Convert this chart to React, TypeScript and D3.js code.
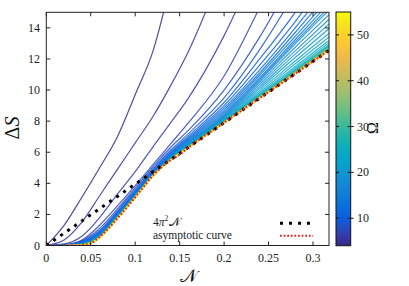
import React from "react";
import * as d3 from "d3";

// ---- data ----
const N_GRID = [0, 0.02, 0.04, 0.06, 0.08, 0.1, 0.12, 0.14, 0.16, 0.2, 0.24, 0.28, 0.32];

const OMEGAS = [4, 5, 6, 7, 8, 9, 10, 11, 12, 13, 14, 15, 16, 17, 18, 19, 20, 21, 22, 23, 24, 25, 26, 27, 28, 30, 32, 35, 38, 42, 46, 50, 55];

const CURVES: number[][] = [
  [0, 1.3, 3.1, 5.0, 7.0, 9.7, 12.5, 16.8, 21],
  [0, 0.35, 1.5, 3.2, 4.9, 6.6, 8.3, 10.3, 12.5, 18],
  [0, 0.1, 0.6, 1.8, 3.3, 4.75, 6.35, 7.9, 9.5, 13.5, 18.5],
  [0, 0.05, 0.35, 1.3, 2.55, 3.85, 5.2, 6.55, 7.9, 10.9, 15.3, 20],
  [0, 0.04, 0.3, 1.1, 2.35, 3.7, 5.05, 6.32, 7.42, 10.0, 13.4, 17.5, 22],
  [0, 0.03, 0.26, 0.98, 2.22, 3.58, 4.93, 6.14, 7.2, 9.5, 12.6, 16.3, 20.5],
  [0, 0.03, 0.22, 0.9, 2.14, 3.49, 4.84, 6.03, 7.05, 9.2, 12.0, 15.0, 18.5],
  [0, 0.02, 0.2, 0.84, 2.08, 3.42, 4.77, 5.95, 6.95, 9.0, 11.6, 14.4, 17.6],
  [0, 0.02, 0.18, 0.8, 2.04, 3.38, 4.72, 5.89, 6.87, 8.85, 11.3, 14.0, 16.9],
  [0, 0.02, 0.16, 0.76, 2.0, 3.34, 4.68, 5.84, 6.8, 8.72, 11.1, 13.7, 16.4],
  [0, 0.01, 0.14, 0.73, 1.97, 3.31, 4.65, 5.8, 6.74, 8.6, 10.95, 13.45, 16.0],
  [0, 0.01, 0.13, 0.7, 1.94, 3.28, 4.62, 5.76, 6.68, 8.5, 10.8, 13.25, 15.7],
  [0, 0.01, 0.12, 0.68, 1.92, 3.26, 4.6, 5.73, 6.63, 8.42, 10.7, 13.1, 15.45],
  [0, 0.01, 0.11, 0.66, 1.9, 3.24, 4.58, 5.7, 6.59, 8.35, 10.6, 12.97, 15.25],
  [0, 0.01, 0.1, 0.64, 1.88, 3.22, 4.57, 5.68, 6.55, 8.3, 10.48, 12.75, 14.95],
  [0, 0, 0.09, 0.62, 1.86, 3.2, 4.56, 5.66, 6.52, 8.25, 10.35, 12.52, 14.65],
  [0, 0, 0.08, 0.61, 1.85, 3.19, 4.55, 5.64, 6.49, 8.2, 10.22, 12.31, 14.35],
  [0, 0, 0.07, 0.6, 1.84, 3.18, 4.54, 5.62, 6.47, 8.15, 10.09, 12.09, 14.05],
  [0, 0, 0.07, 0.59, 1.83, 3.17, 4.53, 5.6, 6.45, 8.1, 9.96, 11.87, 13.75],
  [0, 0, 0.06, 0.58, 1.82, 3.16, 4.53, 5.59, 6.43, 8.06, 9.85, 11.69, 13.5],
  [0, 0, 0.06, 0.57, 1.81, 3.15, 4.52, 5.58, 6.41, 8.02, 9.76, 11.52, 13.28],
  [0, 0, 0.05, 0.56, 1.8, 3.14, 4.52, 5.57, 6.39, 7.99, 9.69, 11.41, 13.12],
  [0, 0, 0.05, 0.55, 1.8, 3.14, 4.51, 5.56, 6.38, 7.97, 9.64, 11.32, 13.0],
  [0, 0, 0.05, 0.55, 1.79, 3.13, 4.51, 5.55, 6.37, 7.96, 9.61, 11.27, 12.93],
  [0, 0, 0.04, 0.54, 1.79, 3.13, 4.5, 5.54, 6.36, 7.95, 9.59, 11.23, 12.88],
  [0, 0, 0.04, 0.53, 1.78, 3.12, 4.5, 5.53, 6.35, 7.94, 9.56, 11.19, 12.82],
  [0, 0, 0.04, 0.53, 1.77, 3.12, 4.5, 5.52, 6.34, 7.93, 9.54, 11.16, 12.78],
  [0, 0, 0.03, 0.52, 1.77, 3.11, 4.5, 5.51, 6.33, 7.92, 9.53, 11.13, 12.74],
  [0, 0, 0.03, 0.51, 1.76, 3.11, 4.5, 5.51, 6.32, 7.91, 9.51, 11.11, 12.71],
  [0, 0, 0.03, 0.51, 1.76, 3.1, 4.5, 5.5, 6.31, 7.91, 9.5, 11.09, 12.68],
  [0, 0, 0.03, 0.5, 1.75, 3.1, 4.5, 5.5, 6.3, 7.9, 9.49, 11.07, 12.66],
  [0, 0, 0.03, 0.5, 1.75, 3.1, 4.5, 5.5, 6.3, 7.9, 9.48, 11.06, 12.65],
  [0, 0, 0.03, 0.5, 1.75, 3.1, 4.5, 5.5, 6.3, 7.9, 9.48, 11.05, 12.64],
];

const ASYM_N = [0, 0.02, 0.034, 0.04, 0.05, 0.06, 0.07, 0.08, 0.09, 0.1, 0.11, 0.12, 0.13, 0.14, 0.15, 0.16, 0.2, 0.24, 0.28, 0.32];
const ASYMPTOTE = [0, 0, 0, 0.03, 0.14, 0.55, 1.1, 1.75, 2.4, 3.1, 3.8, 4.5, 5.05, 5.5, 5.85, 6.3, 7.9, 9.48, 11.05, 12.63];

const LINE_N = [0, 0.318];
const FOUR_PI_SQ = 4 * Math.PI * Math.PI;

const X_TICKS = [0, 0.05, 0.1, 0.15, 0.2, 0.25, 0.3];
const X_TICK_LABELS = ["0", "0.05", "0.1", "0.15", "0.2", "0.25", "0.3"];
const Y_TICKS = [0, 2, 4, 6, 8, 10, 12, 14];
const CB_TICKS = [10, 20, 30, 40, 50];

// parula colormap anchor stops (t, colour)
const PARULA_T = [0, 3, 7, 11, 15, 19, 23, 27, 31, 35, 39, 43, 47, 51, 55, 59, 63].map((i) => i / 63);
const PARULA_C = ["#352a87", "#353dad", "#0f5cdd", "#0871de", "#1481d6", "#1293d2", "#06a4ca", "#0faeb9", "#2eb7a4", "#59bd8c", "#87bf77", "#aebe67", "#d1bb59", "#f1b94a", "#fec832", "#f5de21", "#f9fb0e"];

const FONT = "'Liberation Serif', 'DejaVu Serif', serif";

export default function App() {
  const L = 46.3, R = 329, T = 12.3, B = 245.5;
  const x = d3.scaleLinear().domain([0, 0.318]).range([L, R]);
  const y = d3.scaleLinear().domain([0, 15]).range([B, T]);
  const omegaMin = 4, omegaMax = 55;
  const parula = d3.scaleLinear<string>().domain(PARULA_T).range(PARULA_C).interpolate(d3.interpolateRgb);
  const color = (o: number) => parula((o - omegaMin) / (omegaMax - omegaMin));
  const cb = d3.scaleLinear().domain([omegaMin, omegaMax]).range([245.7, 12]);
  const CBL = 336, CBR = 350.7;

  const line = d3
    .line<[number, number]>()
    .x((d) => x(d[0]))
    .y((d) => y(d[1]))
    .curve(d3.curveMonotoneX);

  const curvePaths = CURVES.map((vals, i) => ({
    o: OMEGAS[i],
    d: line(vals.map((v, j) => [N_GRID[j], v] as [number, number])) || "",
  }));
  const asymPath = line(ASYMPTOTE.map((v, j) => [ASYM_N[j], v] as [number, number])) || "";
  const linPath =
    d3
      .line<number>()
      .x((n) => x(n))
      .y((n) => y(FOUR_PI_SQ * n))(LINE_N) || "";

  const tick = 4;

  return (
    <svg width={409} height={286} style={{ position: "absolute", left: 0, top: 0, background: "#fff" }} fontFamily={FONT}>
      <defs>
        <clipPath id="plotclip">
          <rect x={L} y={T} width={R - L} height={B - T} />
        </clipPath>
        <linearGradient id="cbgrad" x1="0" y1="1" x2="0" y2="0">
          {PARULA_T.map((t, i) => (
            <stop key={i} offset={t} stopColor={PARULA_C[i]} />
          ))}
        </linearGradient>
      </defs>

      <g clipPath="url(#plotclip)">
        {curvePaths.map((c, i) => (
          <path key={i} d={c.d} fill="none" stroke={color(c.o)} strokeWidth={1.2} strokeOpacity={0.85} />
        ))}
        <path d={linPath} fill="none" stroke="#000" strokeWidth={3} strokeDasharray="3 5.5" />
        <path d={asymPath} fill="none" stroke="#f01e1e" strokeWidth={2} strokeDasharray="1.8 1.8" />
      </g>

      {/* frame */}
      <rect x={L} y={T} width={R - L} height={B - T} fill="none" stroke="#222" strokeWidth={1} />

      {/* x ticks */}
      {X_TICKS.map((v, i) => (
        <g key={"xt" + i}>
          <line x1={x(v)} x2={x(v)} y1={B} y2={B - tick} stroke="#222" />
          <line x1={x(v)} x2={x(v)} y1={T} y2={T + tick} stroke="#222" />
          <text x={x(v)} y={262} fontSize={12} textAnchor="middle" fill="#222">
            {X_TICK_LABELS[i]}
          </text>
        </g>
      ))}
      {/* y ticks */}
      {Y_TICKS.map((v) => (
        <g key={"yt" + v}>
          <line x1={L} x2={L + tick} y1={y(v)} y2={y(v)} stroke="#222" />
          <line x1={R} x2={R - tick} y1={y(v)} y2={y(v)} stroke="#222" />
          <text x={40} y={y(v) + 4} fontSize={12} textAnchor="end" fill="#222">
            {v}
          </text>
        </g>
      ))}

      {/* axis labels */}
      <text transform={`translate(19,128) rotate(-90)`} fontSize={20} textAnchor="middle" fill="#111">
        Δ<tspan fontStyle="italic">S</tspan>
      </text>
      <text x={188} y={281.5} fontSize={18} textAnchor="middle" fill="#111">
        𝒩
      </text>

      {/* legend */}
      <text x={153} y={226} fontSize={11.5} fill="#222">
        4<tspan fontStyle="italic">π</tspan>
        <tspan dy={-5} fontSize={7.5}>2</tspan>
        <tspan dy={5} dx={1}>𝒩</tspan>
      </text>
      <line x1={280} x2={311} y1={223.3} y2={223.3} stroke="#000" strokeWidth={3} strokeDasharray="3 6" />
      <text x={153} y={239} fontSize={11.5} fill="#222">
        asymptotic curve
      </text>
      <line x1={280} x2={313} y1={235.7} y2={235.7} stroke="#f01e1e" strokeWidth={2} strokeDasharray="1.8 1.8" />

      {/* colorbar */}
      <rect x={CBL} y={12} width={CBR - CBL} height={245.7 - 12} fill="url(#cbgrad)" stroke="#111" strokeWidth={1} />
      {CB_TICKS.map((v) => (
        <g key={"cb" + v}>
          <line x1={CBL} x2={CBL + 3} y1={cb(v)} y2={cb(v)} stroke="#111" />
          <line x1={CBR} x2={CBR - 3} y1={cb(v)} y2={cb(v)} stroke="#111" />
          <line x1={CBR} x2={CBR + 3} y1={cb(v)} y2={cb(v)} stroke="#111" />
          <text x={357} y={cb(v) + 4} fontSize={12} fill="#222">
            {v}
          </text>
        </g>
      ))}
      <text transform={`translate(378,128) rotate(-90)`} fontSize={16} textAnchor="middle" fill="#111">
        Ω
      </text>
    </svg>
  );
}
